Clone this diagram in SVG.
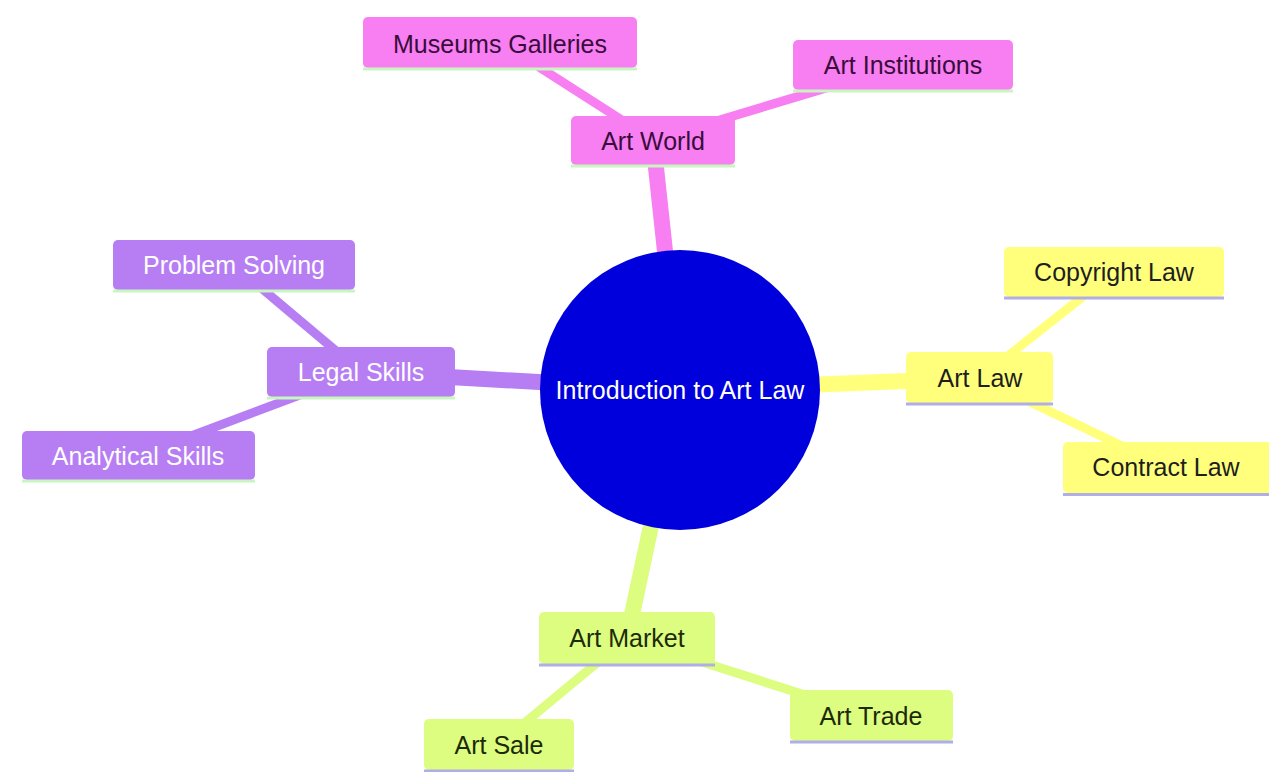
<svg xmlns="http://www.w3.org/2000/svg" width="1269" height="772" viewBox="0 0 1269 772">
<style>
text{font-family:"Liberation Sans",Arial,sans-serif;font-size:25px;text-anchor:middle}
.e1{stroke-width:16;stroke-linecap:butt;fill:none}
.e2{stroke-width:9;stroke-linecap:butt;fill:none}
.pk{fill:#f77ff2}.pks{stroke:#f77ff2}
.pu{fill:#b77ef4}.pus{stroke:#b77ef4}
.ye{fill:#ffff7c}.yes{stroke:#ffff7c}
.gr{fill:#dcfd80}.grs{stroke:#dcfd80}
.bl1{stroke:#c9f5c0;stroke-width:3}
.bl2{stroke:#b0aee6;stroke-width:3}
.tpk{fill:#3a0c3a}.tpu{fill:#ffffff}.tye{fill:#1e1e1e}.tgr{fill:#1c2a08}
</style>
<rect width="1269" height="772" fill="#ffffff"/>
<g id="connectors">
<line class="e1 pks" x1="653" y1="140" x2="680" y2="390"/>
<line class="e2 pks" x1="500" y1="42" x2="653" y2="140"/>
<line class="e2 pks" x1="903" y1="65" x2="653" y2="140"/>
<line class="e1 pus" x1="361" y1="372" x2="680" y2="390"/>
<line class="e2 pus" x1="234" y1="265" x2="361" y2="372"/>
<line class="e2 pus" x1="138" y1="456" x2="361" y2="372"/>
<line class="e1 yes" x1="980" y1="378" x2="680" y2="390"/>
<line class="e2 yes" x1="1114" y1="272" x2="980" y2="378"/>
<line class="e2 yes" x1="1166" y1="467" x2="980" y2="378"/>
<line class="e1 grs" x1="627" y1="638" x2="680" y2="390"/>
<line class="e2 grs" x1="499" y1="744" x2="627" y2="638"/>
<line class="e2 grs" x1="871" y1="716" x2="627" y2="638"/>
</g>
<g id="root">
<circle cx="680" cy="390" r="140" fill="#0000dd"/>
<text x="680" y="399" fill="#ffffff">Introduction to Art Law</text>
</g>
<g id="art-world">
<rect class="pk" x="571" y="116" width="164" height="49" rx="5"/>
<line class="bl1" x1="571" y1="166" x2="735" y2="166"/>
<text class="tpk" x="653" y="149.5">Art World</text>
</g>
<g id="museums-galleries">
<rect class="pk" x="363" y="17" width="274" height="51" rx="5"/>
<line class="bl1" x1="363" y1="69" x2="637" y2="69"/>
<text class="tpk" x="500" y="52.5">Museums Galleries</text>
</g>
<g id="art-institutions">
<rect class="pk" x="793" y="40" width="220" height="50" rx="5"/>
<line class="bl1" x1="793" y1="91" x2="1013" y2="91"/>
<text class="tpk" x="903" y="74">Art Institutions</text>
</g>
<g id="legal-skills">
<rect class="pu" x="267" y="347" width="188" height="50" rx="5"/>
<line class="bl1" x1="267" y1="398" x2="455" y2="398"/>
<text class="tpu" x="361" y="381">Legal Skills</text>
</g>
<g id="problem-solving">
<rect class="pu" x="113" y="240" width="242" height="50" rx="5"/>
<line class="bl1" x1="113" y1="291" x2="355" y2="291"/>
<text class="tpu" x="234" y="274">Problem Solving</text>
</g>
<g id="analytical-skills">
<rect class="pu" x="22" y="431" width="233" height="49" rx="5"/>
<line class="bl1" x1="22" y1="481" x2="255" y2="481"/>
<text class="tpu" x="138" y="464.5">Analytical Skills</text>
</g>
<g id="art-law">
<rect class="ye" x="906" y="352" width="147" height="51" rx="5"/>
<line class="bl2" x1="906" y1="404" x2="1053" y2="404"/>
<text class="tye" x="980" y="386.5">Art Law</text>
</g>
<g id="copyright-law">
<rect class="ye" x="1004" y="247" width="220" height="50" rx="5"/>
<line class="bl2" x1="1004" y1="298" x2="1224" y2="298"/>
<text class="tye" x="1114" y="281">Copyright Law</text>
</g>
<g id="contract-law">
<rect class="ye" x="1063" y="442" width="212" height="51" rx="5"/>
<line class="bl2" x1="1063" y1="494.5" x2="1275" y2="494.5"/>
<text class="tye" x="1166" y="476">Contract Law</text>
</g>
<g id="art-market">
<rect class="gr" x="539" y="612" width="176" height="52" rx="5"/>
<line class="bl2" x1="539" y1="665" x2="715" y2="665"/>
<text class="tgr" x="627" y="646.5">Art Market</text>
</g>
<g id="art-sale">
<rect class="gr" x="424" y="719" width="150" height="51" rx="5"/>
<line class="bl2" x1="424" y1="771" x2="574" y2="771"/>
<text class="tgr" x="499" y="753.5">Art Sale</text>
</g>
<g id="art-trade">
<rect class="gr" x="790" y="690" width="163" height="51" rx="5"/>
<line class="bl2" x1="790" y1="742" x2="953" y2="742"/>
<text class="tgr" x="871" y="724.5">Art Trade</text>
</g>
</svg>
